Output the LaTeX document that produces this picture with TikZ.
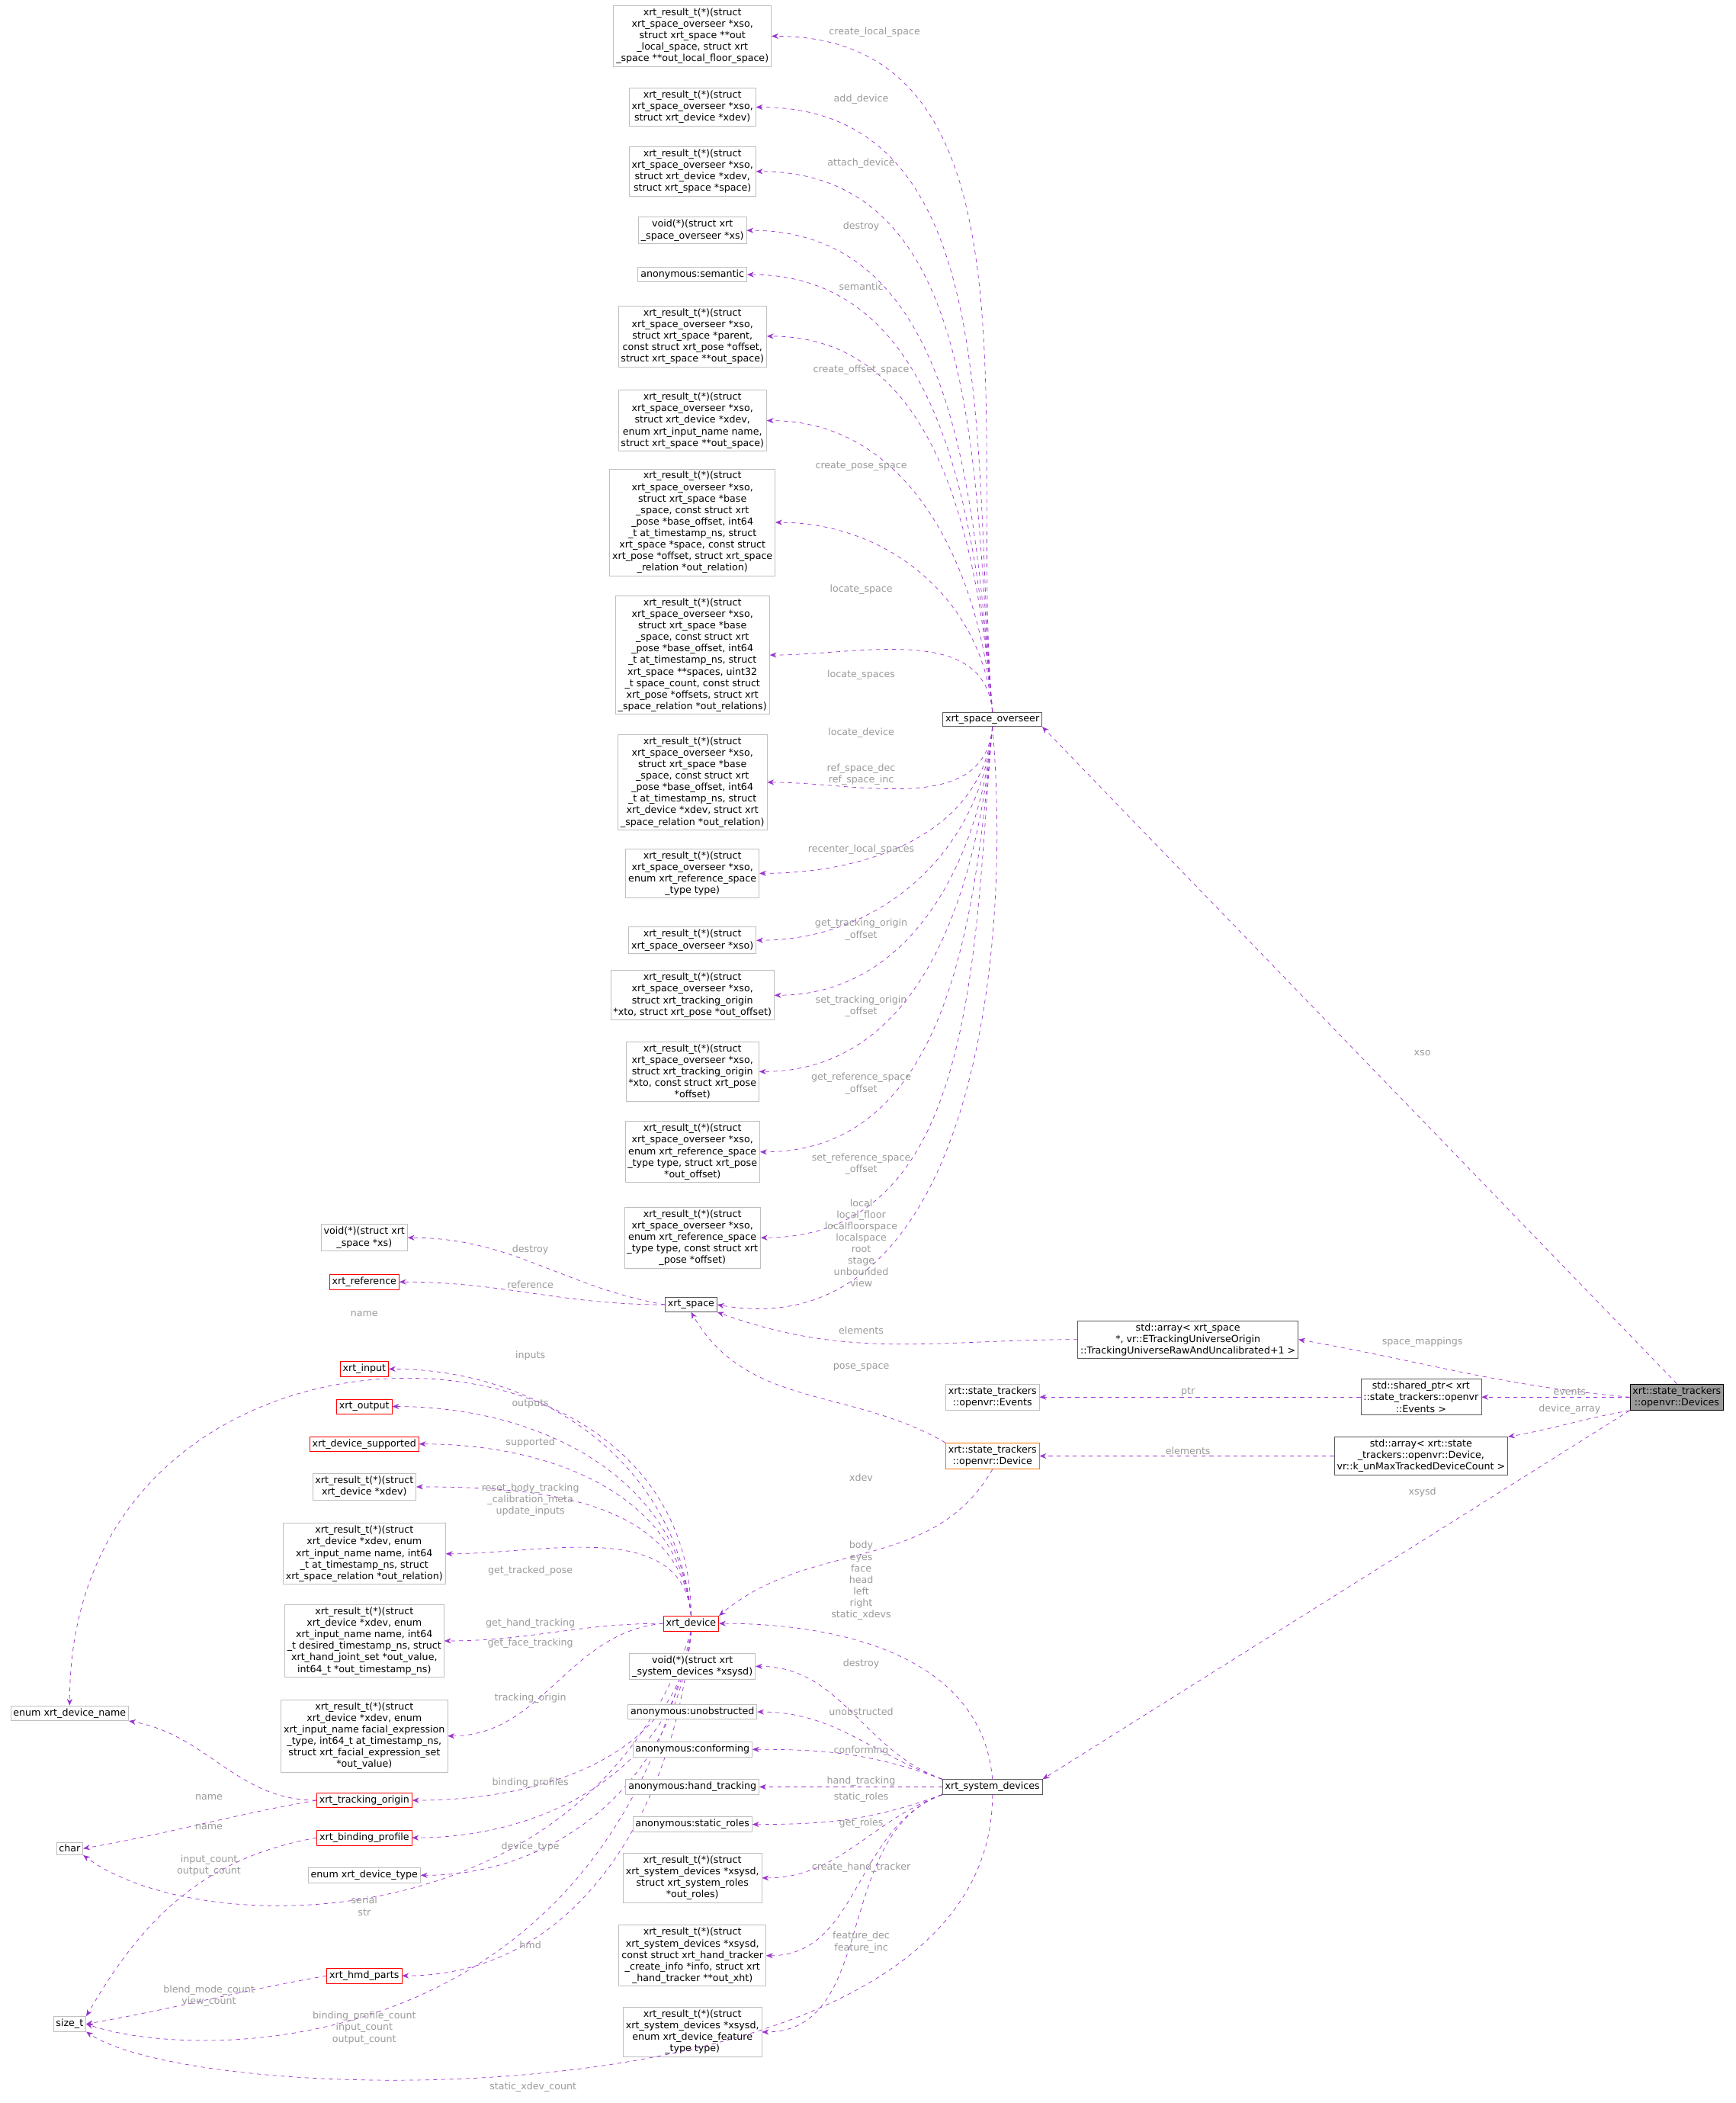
\documentclass[tikz,border=0pt]{standalone}
\usepackage{fontspec}
\setmainfont{DejaVu Sans}
\usetikzlibrary{arrows.meta}
\definecolor{ec}{RGB}{154,50,205}
\definecolor{lc}{RGB}{154,154,154}
\definecolor{gb}{RGB}{191,191,191}
\begin{document}
\begin{tikzpicture}[x=1pt,y=-1pt,
  every node/.style={font=\fontsize{7.2}{8.6}\selectfont, align=center, inner sep=2pt},
  fb/.style={draw=gb, fill=white},
  rb/.style={draw=red, fill=white},
  kb/.style={draw=black!65, fill=white},
  ob/.style={draw=orange!90!red, fill=white},
  e/.style={draw=ec, dashed, -{Stealth[length=5pt,width=4pt]}},
  lb/.style={text=lc, inner sep=0pt}]
\useasboundingbox (0,0) rectangle (1296,1570);
% overseer column
\node[kb] (ov) at (741,537) {xrt\_space\_overseer};
\node[fb] (f1) at (517,27) {xrt\_result\_t(*)(struct\\ xrt\_space\_overseer *xso,\\ struct xrt\_space **out\\\_local\_space, struct xrt\\\_space **out\_local\_floor\_space)};
\node[fb] (f2) at (517,80) {xrt\_result\_t(*)(struct\\ xrt\_space\_overseer *xso,\\ struct xrt\_device *xdev)};
\node[fb] (f3) at (517,128) {xrt\_result\_t(*)(struct\\ xrt\_space\_overseer *xso,\\ struct xrt\_device *xdev,\\ struct xrt\_space *space)};
\node[fb] (f4) at (517,172) {void(*)(struct xrt\\\_space\_overseer *xs)};
\node[fb] (f5) at (517,205) {anonymous:semantic};
\node[fb] (f6) at (517,251) {xrt\_result\_t(*)(struct\\ xrt\_space\_overseer *xso,\\ struct xrt\_space *parent,\\ const struct xrt\_pose *offset,\\ struct xrt\_space **out\_space)};
\node[fb] (f7) at (517,314) {xrt\_result\_t(*)(struct\\ xrt\_space\_overseer *xso,\\ struct xrt\_device *xdev,\\ enum xrt\_input\_name name,\\ struct xrt\_space **out\_space)};
\node[fb] (f8) at (517,390) {xrt\_result\_t(*)(struct\\ xrt\_space\_overseer *xso,\\ struct xrt\_space *base\\\_space, const struct xrt\\\_pose *base\_offset, int64\\\_t at\_timestamp\_ns, struct\\ xrt\_space *space, const struct\\ xrt\_pose *offset, struct xrt\_space\\\_relation *out\_relation)};
\node[fb] (f9) at (517,489) {xrt\_result\_t(*)(struct\\ xrt\_space\_overseer *xso,\\ struct xrt\_space *base\\\_space, const struct xrt\\\_pose *base\_offset, int64\\\_t at\_timestamp\_ns, struct\\ xrt\_space **spaces, uint32\\\_t space\_count, const struct\\ xrt\_pose *offsets, struct xrt\\\_space\_relation *out\_relations)};
\node[fb] (f10) at (517,584) {xrt\_result\_t(*)(struct\\ xrt\_space\_overseer *xso,\\ struct xrt\_space *base\\\_space, const struct xrt\\\_pose *base\_offset, int64\\\_t at\_timestamp\_ns, struct\\ xrt\_device *xdev, struct xrt\\\_space\_relation *out\_relation)};
\node[fb] (f11) at (517,652) {xrt\_result\_t(*)(struct\\ xrt\_space\_overseer *xso,\\ enum xrt\_reference\_space\\\_type type)};
\node[fb] (f12) at (517,702) {xrt\_result\_t(*)(struct\\ xrt\_space\_overseer *xso)};
\node[fb] (f13) at (517,743) {xrt\_result\_t(*)(struct\\ xrt\_space\_overseer *xso,\\ struct xrt\_tracking\_origin\\ *xto, struct xrt\_pose *out\_offset)};
\node[fb] (f14) at (517,800) {xrt\_result\_t(*)(struct\\ xrt\_space\_overseer *xso,\\ struct xrt\_tracking\_origin\\ *xto, const struct xrt\_pose\\ *offset)};
\node[fb] (f15) at (517,860) {xrt\_result\_t(*)(struct\\ xrt\_space\_overseer *xso,\\ enum xrt\_reference\_space\\\_type type, struct xrt\_pose\\ *out\_offset)};
\node[fb] (f16) at (517,924) {xrt\_result\_t(*)(struct\\ xrt\_space\_overseer *xso,\\ enum xrt\_reference\_space\\\_type type, const struct xrt\\\_pose *offset)};
\foreach \i in {1,...,9} \draw[e] (ov.north) to[out=95,in=0] (f\i.east);
\foreach \i in {10,...,16} \draw[e] (ov.south) to[out=-95,in=0] (f\i.east);
\node[lb] at (653,24) {create\_local\_space};
\node[lb] at (643,74) {add\_device};
\node[lb] at (643,122) {attach\_device};
\node[lb] at (643,169) {destroy};
\node[lb] at (643,214) {semantic};
\node[lb] at (643,276) {create\_offset\_space};
\node[lb] at (643,348) {create\_pose\_space};
\node[lb] at (643,440) {locate\_space};
\node[lb] at (643,504) {locate\_spaces};
\node[lb] at (643,547) {locate\_device};
\node[lb] at (643,578) {ref\_space\_dec\\ref\_space\_inc};
\node[lb] at (643,634) {recenter\_local\_spaces};
\node[lb] at (643,694) {get\_tracking\_origin\\\_offset};
\node[lb] at (643,751) {set\_tracking\_origin\\\_offset};
\node[lb] at (643,809) {get\_reference\_space\\\_offset};
\node[lb] at (643,869) {set\_reference\_space\\\_offset};
% space & classes
\node[kb] (sp) at (516,974) {xrt\_space};
\node[fb] (spd) at (272,924) {void(*)(struct xrt\\\_space *xs)};
\node[rb] (ref) at (272,957) {xrt\_reference};
\node[kb] (arrs) at (887,1000) {std::array< xrt\_space\\ *, vr::ETrackingUniverseOrigin\\::TrackingUniverseRawAndUncalibrated+1 >};
\node[fb] (ev) at (741,1043) {xrt::state\_trackers\\::openvr::Events};
\node[kb] (shp) at (1061,1043) {std::shared\_ptr< xrt\\::state\_trackers::openvr\\::Events >};
\node[ob] (dv) at (741,1087) {xrt::state\_trackers\\::openvr::Device};
\node[kb] (arrd) at (1061,1087) {std::array< xrt::state\\\_trackers::openvr::Device,\\ vr::k\_unMaxTrackedDeviceCount >};
\node[draw=black, fill=black!40] (ds) at (1252,1043) {xrt::state\_trackers\\::openvr::Devices};
\node[kb] (sys) at (741,1334) {xrt\_system\_devices};
\draw[e] (ov.south) to[out=-85,in=-10] (sp.east);
\node[lb] at (643,928) {local\\local\_floor\\localfloorspace\\localspace\\root\\stage\\unbounded\\view};
\draw[e] (sp.west) to[out=170,in=0] (spd.east);
\node[lb] at (396,933) {destroy};
\draw[e] (sp.west) to[out=180,in=0] (ref.east);
\node[lb] at (396,959) {reference};
\draw[e] (arrs.west) to[out=180,in=-20] (sp.south east);
\node[lb] at (643,993) {elements};
\draw[e] (dv.north west) to[out=150,in=-60] (sp.south);
\node[lb] at (643,1021) {pose\_space};
\draw[e] (shp.west) -- (ev.east);
\node[lb] at (887,1039) {ptr};
\draw[e] (arrd.west) -- (dv.east);
\node[lb] at (887,1083) {elements};
\draw[e] (ds.north) -- (ov.south east);
\node[lb] at (1062,786) {xso};
\draw[e] (ds.south west) -- (sys.north east);
\node[lb] at (1062,1114) {xsysd};
\draw[e] (ds.west) to[out=175,in=-10] (arrs.east);
\node[lb] at (1062,1002) {space\_mappings};
\draw[e] (ds.west) -- (shp.east);
\node[lb] at (1172,1039) {events};
\draw[e] (ds.south west) to[out=190,in=10] (arrd.north east);
\node[lb] at (1172,1052) {device\_array};
% xrt_device
\node[rb] (xd) at (516,1212) {xrt\_device};
\node[fb] (edn) at (52,1279) {enum xrt\_device\_name};
\node[fb] (ch) at (52,1380) {char};
\node[fb] (sz) at (52,1511) {size\_t};
\node[rb] (xin) at (272,1022) {xrt\_input};
\node[rb] (xout) at (272,1050) {xrt\_output};
\node[rb] (xsup) at (272,1078) {xrt\_device\_supported};
\node[fb] (d1) at (272,1110) {xrt\_result\_t(*)(struct\\ xrt\_device *xdev)};
\node[fb] (d2) at (272,1160) {xrt\_result\_t(*)(struct\\ xrt\_device *xdev, enum\\ xrt\_input\_name name, int64\\\_t at\_timestamp\_ns, struct\\ xrt\_space\_relation *out\_relation)};
\node[fb] (d3) at (272,1225) {xrt\_result\_t(*)(struct\\ xrt\_device *xdev, enum\\ xrt\_input\_name name, int64\\\_t desired\_timestamp\_ns, struct\\ xrt\_hand\_joint\_set *out\_value,\\ int64\_t *out\_timestamp\_ns)};
\node[fb] (d4) at (272,1296) {xrt\_result\_t(*)(struct\\ xrt\_device *xdev, enum\\ xrt\_input\_name facial\_expression\\\_type, int64\_t at\_timestamp\_ns,\\ struct xrt\_facial\_expression\_set\\ *out\_value)};
\node[rb] (xto) at (272,1344) {xrt\_tracking\_origin};
\node[rb] (xbp) at (272,1372) {xrt\_binding\_profile};
\node[fb] (edt) at (272,1400) {enum xrt\_device\_type};
\node[rb] (xhp) at (272,1475) {xrt\_hmd\_parts};
\draw[e] (dv.south) to[out=-120,in=40] (xd.north east);
\node[lb] at (643,1103) {xdev};
\draw[e] (xd.north) .. controls (516,960) and (52,960) .. (edn.north);
\node[lb] at (272,981) {name};
\foreach \n in {xin,xout,xsup,d1,d2} \draw[e] (xd.north) to[out=95,in=0] (\n.east);
\draw[e] (xd.west) to[out=180,in=0] (d3.east);
\draw[e] (xd.west) to[out=185,in=0] (d4.east);
\foreach \n in {xto,xbp,edt,xhp} \draw[e] (xd.south) to[out=-95,in=0] (\n.east);
\draw[e] (xd.south) .. controls (440,1450) and (150,1450) .. (ch.south east);
\draw[e] (xd.south) .. controls (450,1540) and (150,1540) .. (sz.east);
\node[lb] at (396,1012) {inputs};
\node[lb] at (396,1048) {outputs};
\node[lb] at (396,1077) {supported};
\node[lb] at (396,1120) {reset\_body\_tracking\\\_calibration\_meta\\update\_inputs};
\node[lb] at (396,1173) {get\_tracked\_pose};
\node[lb] at (396,1212) {get\_hand\_tracking};
\node[lb] at (396,1227) {get\_face\_tracking};
\node[lb] at (396,1268) {tracking\_origin};
\node[lb] at (396,1331) {binding\_profiles};
\node[lb] at (396,1379) {device\_type};
\node[lb] at (272,1423) {serial\\str};
\node[lb] at (396,1452) {hmd};
\node[lb] at (272,1514) {binding\_profile\_count\\input\_count\\output\_count};
\draw[e] (xto.west) to[out=180,in=-10] (edn.south east);
\node[lb] at (156,1342) {name};
\draw[e] (xto.west) to[out=190,in=10] (ch.east);
\node[lb] at (156,1364) {name};
\draw[e] (xbp.west) to[out=190,in=60] (sz.north east);
\node[lb] at (156,1393) {input\_count\\output\_count};
\draw[e] (xhp.west) to[out=190,in=10] (sz.east);
\node[lb] at (156,1490) {blend\_mode\_count\\view\_count};
% system devices
\node[fb] (s1) at (517,1244) {void(*)(struct xrt\\\_system\_devices *xsysd)};
\node[fb] (s2) at (517,1278) {anonymous:unobstructed};
\node[fb] (s3) at (517,1306) {anonymous:conforming};
\node[fb] (s4) at (517,1334) {anonymous:hand\_tracking};
\node[fb] (s5) at (517,1362) {anonymous:static\_roles};
\node[fb] (s6) at (517,1402) {xrt\_result\_t(*)(struct\\ xrt\_system\_devices *xsysd,\\ struct xrt\_system\_roles\\ *out\_roles)};
\node[fb] (s7) at (517,1460) {xrt\_result\_t(*)(struct\\ xrt\_system\_devices *xsysd,\\ const struct xrt\_hand\_tracker\\\_create\_info *info, struct xrt\\\_hand\_tracker **out\_xht)};
\node[fb] (s8) at (517,1517) {xrt\_result\_t(*)(struct\\ xrt\_system\_devices *xsysd,\\ enum xrt\_device\_feature\\\_type type)};
\draw[e] (sys.north) to[out=95,in=0] (xd.east);
\node[lb] at (643,1180) {body\\eyes\\face\\head\\left\\right\\static\_xdevs};
\foreach \i in {1,2,3} \draw[e] (sys.north west) to[out=160,in=0] (s\i.east);
\draw[e] (sys.west) -- (s4.east);
\foreach \i in {5,6,7,8} \draw[e] (sys.south west) to[out=200,in=0] (s\i.east);
\draw[e] (sys.south) .. controls (741,1590) and (150,1575) .. (sz.south east);
\node[lb] at (643,1242) {destroy};
\node[lb] at (643,1278) {unobstructed};
\node[lb] at (643,1307) {conforming};
\node[lb] at (643,1330) {hand\_tracking};
\node[lb] at (643,1342) {static\_roles};
\node[lb] at (643,1361) {get\_roles};
\node[lb] at (643,1394) {create\_hand\_tracker};
\node[lb] at (643,1450) {feature\_dec\\feature\_inc};
\node[lb] at (398,1558) {static\_xdev\_count};
\end{tikzpicture}
\end{document}
